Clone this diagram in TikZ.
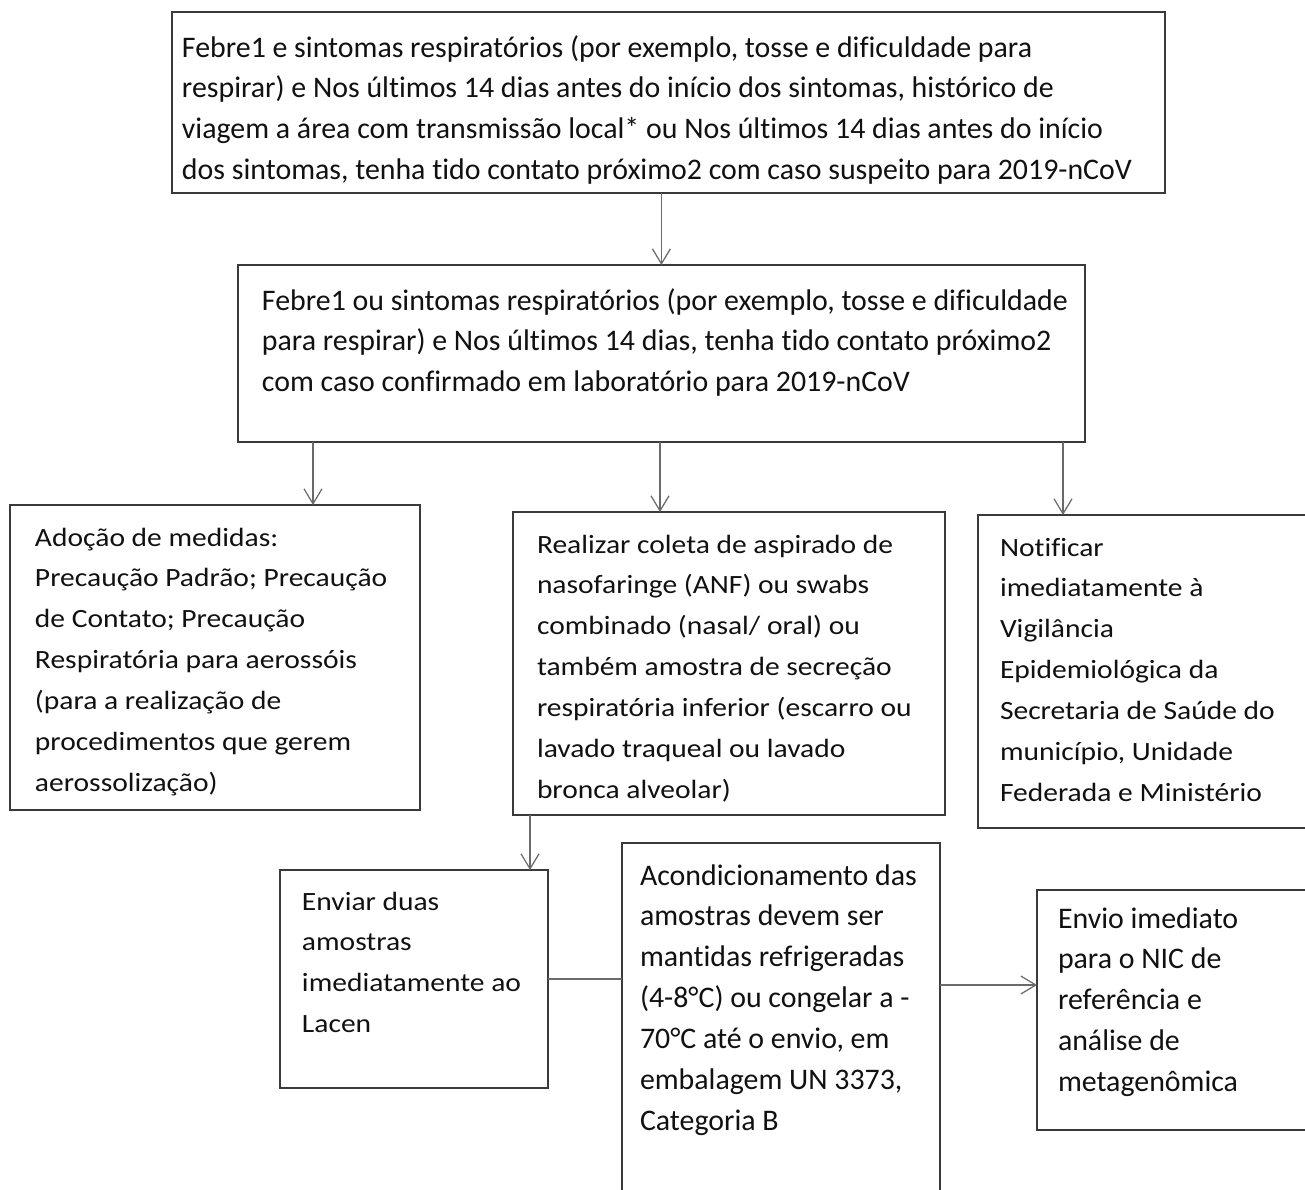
\documentclass[tikz,border=0pt]{standalone}
\usepackage{fontspec}
\setmainfont[Ligatures=NoCommon]{Carlito}
\newfontfamily\widefont[FakeStretch=1.12,Ligatures=NoCommon]{Carlito}
\usetikzlibrary{arrows.meta,calc}
\definecolor{linec}{HTML}{3A3A3A}
\definecolor{arrc}{HTML}{6A6A6A}
\definecolor{txtc}{HTML}{111111}
% width, height, left pad, first baseline offset, font size, text
\newcommand{\bxt}[6]{\parbox[c][#2][t]{#1}{\vspace*{\dimexpr #4-16.3pt\relax}\leftskip=#3\relax\rightskip=0pt plus 1fil\parindent=0pt\fontsize{#5}{23.3}\selectfont\color{txtc}\strut #6}}
\tikzset{
  box/.style={draw=linec, line width=0.8pt, inner sep=0pt, outer sep=0pt, anchor=north west},
  arr/.style={draw=arrc, line width=0.7pt, -{Straight Barb[length=3mm,width=3.6mm]}},
  lnk/.style={draw=arrc, line width=0.7pt}
}
\begin{document}
\begin{tikzpicture}[x=0.02cm,y=-0.02cm]
\useasboundingbox (0,0) rectangle (1305,1190);
\fill[white] (0,0) rectangle (1305,1190);
\clip (0,0) rectangle (1305,1190);

\node[box] (b1) at (172,12) {\bxt{19.86cm}{3.62cm}{0.2cm}{0.9cm}{17}{Febre1 e sintomas respiratórios (por exemplo, tosse e dificuldade para\\ respirar) e Nos últimos 14 dias antes do início dos sintomas, histórico de\\ viagem a área com transmissão local* ou Nos últimos 14 dias antes do início\\ dos sintomas, tenha tido contato próximo2 com caso suspeito para 2019-nCoV}};

\node[box] (b2) at (238,265) {\bxt{16.94cm}{3.54cm}{0.48cm}{0.9cm}{17}{Febre1 ou sintomas respiratórios (por exemplo, tosse e dificuldade\\ para respirar) e Nos últimos 14 dias, tenha tido contato próximo2\\ com caso confirmado em laboratório para 2019-nCoV}};

\node[box] (b3) at (10,505) {\bxt{8.2cm}{6.1cm}{0.5cm}{0.82cm}{15}{\widefont Adoção de medidas:\\ Precaução Padrão; Precaução\\ de Contato; Precaução\\ Respiratória para aerossóis\\ (para a realização de\\ procedimentos que gerem\\ aerossolização)}};

\node[box] (b4) at (513,512) {\bxt{8.64cm}{6.06cm}{0.48cm}{0.82cm}{15}{\widefont Realizar coleta de aspirado de\\ nasofaringe (ANF) ou swabs\\ combinado (nasal/ oral) ou\\ também amostra de secreção\\ respiratória inferior (escarro ou\\ lavado traqueal ou lavado\\ bronca alveolar)}};

\node[box] (b5) at (978,515) {\bxt{6.9cm}{6.26cm}{0.44cm}{0.82cm}{15}{\widefont Notificar\\ imediatamente à\\ Vigilância\\ Epidemiológica da\\ Secretaria de Saúde do\\ município, Unidade\\ Federada e Ministério}};

\node[box] (b6) at (280,870) {\bxt{5.36cm}{4.36cm}{0.44cm}{0.8cm}{15}{\widefont Enviar duas\\ amostras\\ imediatamente ao\\ Lacen}};

\node[box] (b7) at (622,843) {\bxt{6.36cm}{7.2cm}{0.36cm}{0.84cm}{17}{Acondicionamento das\\ amostras devem ser\\ mantidas refrigeradas\\ (4-8°C) ou congelar a -\\ 70°C até o envio, em\\ embalagem UN 3373,\\ Categoria B}};

\node[box] (b8) at (1037,890) {\bxt{5.8cm}{4.8cm}{0.42cm}{0.76cm}{17}{Envio imediato\\ para o NIC de\\ referência e\\ análise de\\ metagenômica}};

\coordinate (x313) at (313,0);
\coordinate (x660) at (660,0);
\coordinate (x1063) at (1063,0);
\coordinate (x530) at (530,0);
\coordinate (y985) at (0,985);

\draw[arr] (b1.south -| b2.north) -- (b2.north);
\draw[arr] (b2.south -| x313) -- (b3.north -| x313);
\draw[arr] (b2.south -| x660) -- (b4.north -| x660);
\draw[arr] (b2.south -| x1063) -- (b5.north -| x1063);
\draw[arr] (b4.south -| x530) -- (b6.north -| x530);
\draw[lnk] (b6.east) -- (b6.east -| b7.west);
\draw[arr] (b7.east |- y985) -- (b8.west |- y985);
\end{tikzpicture}
\end{document}
